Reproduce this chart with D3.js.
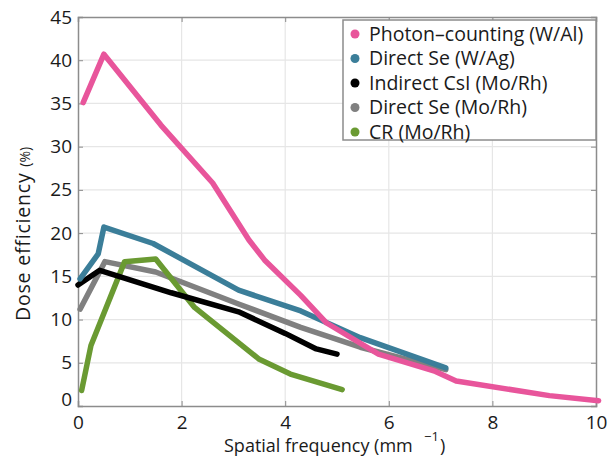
<!DOCTYPE html>
<html>
<head>
<meta charset="utf-8">
<script src="https://cdn.jsdelivr.net/npm/d3@7"></script>
<style>
  body { margin: 0; background: #fff; }
  text { font-family: "Open Sans", "Noto Sans", sans-serif; fill: #1a1a1a; }
</style>
</head>
<body>
<div id="chart"></div>
<script>
// series: [spatial frequency (mm^-1), dose efficiency (%)]
const photonCounting = [[0.1, 35.1], [0.5, 40.7], [1.6, 32.5], [2.6, 25.8], [3.3, 19.2], [3.6, 16.9], [4.3, 12.8], [4.8, 9.6], [5.8, 6.0], [6.9, 4.0], [7.3, 2.9], [9.1, 1.2], [10.05, 0.6]];
const directSeWAg = [[0.04, 14.7], [0.39, 17.6], [0.5, 20.7], [1.45, 18.8], [3.1, 13.4], [4.3, 11.0], [5.45, 7.9], [7.1, 4.4]];
const indirectCsI = [[0.0, 14.0], [0.42, 15.7], [1.8, 13.1], [3.1, 10.9], [4.0, 8.4], [4.6, 6.6], [5.0, 6.0]];
const directSeMoRh = [[0.04, 11.2], [0.52, 16.7], [1.5, 15.5], [3.1, 11.8], [4.3, 9.1], [5.45, 6.8], [7.1, 4.2]];
const crMoRh = [[0.07, 1.8], [0.25, 7.0], [0.9, 16.7], [1.5, 17.0], [2.25, 11.4], [3.5, 5.4], [4.1, 3.7], [5.1, 1.9]];

const seriesNames = ["Photon\u2013counting (W/Al)", "Direct Se (W/Ag)", "Indirect CsI (Mo/Rh)", "Direct Se (Mo/Rh)", "CR (Mo/Rh)"];
const seriesColors = ["#e8559b", "#3b7e99", "#000000", "#808080", "#6a9a32"];
const xTicks = [0, 2, 4, 6, 8, 10];
const yTicks = [0, 5, 10, 15, 20, 25, 30, 35, 40, 45];

const width = 610, height = 457;
const margin = { top: 17, right: 14, bottom: 51, left: 78 };

const svg = d3.select("#chart").append("svg")
    .attr("width", width)
    .attr("height", height);

const x = d3.scaleLinear().domain([0, 10]).range([margin.left, width - margin.right]);
const y = d3.scaleLinear().domain([0, 45]).range([height - margin.bottom, margin.top]);

// grid
const grid = svg.append("g").attr("stroke", "#e6e6e6").attr("stroke-width", 1.2);
grid.selectAll(".gx").data(xTicks.slice(1, -1)).enter().append("line")
    .attr("x1", d => x(d)).attr("x2", d => x(d))
    .attr("y1", y(0)).attr("y2", y(45));
grid.selectAll(".gy").data(yTicks.slice(1, -1)).enter().append("line")
    .attr("x1", x(0)).attr("x2", x(10))
    .attr("y1", d => y(d)).attr("y2", d => y(d));

// axes
const axisColor = "#8c8c8c";
const xAxis = svg.append("g").attr("transform", `translate(0,${y(0)})`)
    .call(d3.axisBottom(x).tickValues(xTicks).tickSize(-5).tickPadding(10));
const xTop = svg.append("g").attr("transform", `translate(0,${y(45)})`)
    .call(d3.axisTop(x).tickValues(xTicks).tickSize(-5).tickFormat(""));
const yAxis = svg.append("g").attr("transform", `translate(${x(0)},0)`)
    .call(d3.axisLeft(y).tickValues(yTicks).tickSize(-5).tickPadding(6));
const yRight = svg.append("g").attr("transform", `translate(${x(10)},0)`)
    .call(d3.axisRight(y).tickValues(yTicks).tickSize(-5).tickFormat(""));

[xAxis, xTop, yAxis, yRight].forEach(a => {
    a.select(".domain").attr("stroke", axisColor).attr("stroke-width", 1.5);
    a.selectAll(".tick line").attr("stroke", axisColor);
    a.selectAll(".tick text")
        .style("font-family", "'Open Sans', sans-serif")
        .style("font-size", "19px")
        .attr("fill", "#1a1a1a");
});
yAxis.selectAll(".tick text").filter(d => d === 0).attr("dy", "-0.05em");

// lines
const allSeries = [photonCounting, directSeWAg, indirectCsI, directSeMoRh, crMoRh];
const drawOrder = [3, 4, 2, 1, 0];
const line = d3.line().x(d => x(d[0])).y(d => y(d[1]));

svg.append("g").selectAll("path")
    .data(drawOrder)
    .enter().append("path")
    .attr("d", i => line(allSeries[i]))
    .attr("fill", "none")
    .attr("stroke", i => seriesColors[i])
    .attr("stroke-width", 5.5)
    .attr("stroke-linejoin", "round")
    .attr("stroke-linecap", "round");

// legend
const legend = svg.append("g").attr("transform", "translate(343,20)");
legend.append("rect")
    .attr("width", 253).attr("height", 120)
    .attr("fill", "#fff").attr("stroke", "#8c8c8c").attr("stroke-width", 1.5);
const items = legend.selectAll(".item").data(seriesNames).enter().append("g")
    .attr("transform", (d, i) => `translate(0,${14 + i * 24.5})`);
items.append("circle").attr("cx", 12).attr("cy", 0).attr("r", 4.5)
    .attr("fill", (d, i) => seriesColors[i]);
items.append("text").attr("x", 26).attr("y", 0).attr("dy", "0.35em")
    .style("font-size", "19.5px")
    .text(d => d);

// axis titles
const xt = svg.append("text")
    .attr("x", 224).attr("y", 452)
    .style("font-size", "18px");
xt.append("tspan").text("Spatial frequency (mm");
xt.append("tspan").attr("x", 424).attr("dy", -11).style("font-size", "13px").text("\u22121");
xt.append("tspan").attr("dx", 1).attr("dy", 11).text(")");

const yt = svg.append("text")
    .attr("transform", "translate(30,321) rotate(-90)")
    .style("font-size", "19.5px")
    .style("letter-spacing", "0.8px");
yt.append("tspan").text("Dose efficiency ");
yt.append("tspan").style("font-size", "14px").style("letter-spacing", "0px").text("(%)");
</script>
</body>
</html>
